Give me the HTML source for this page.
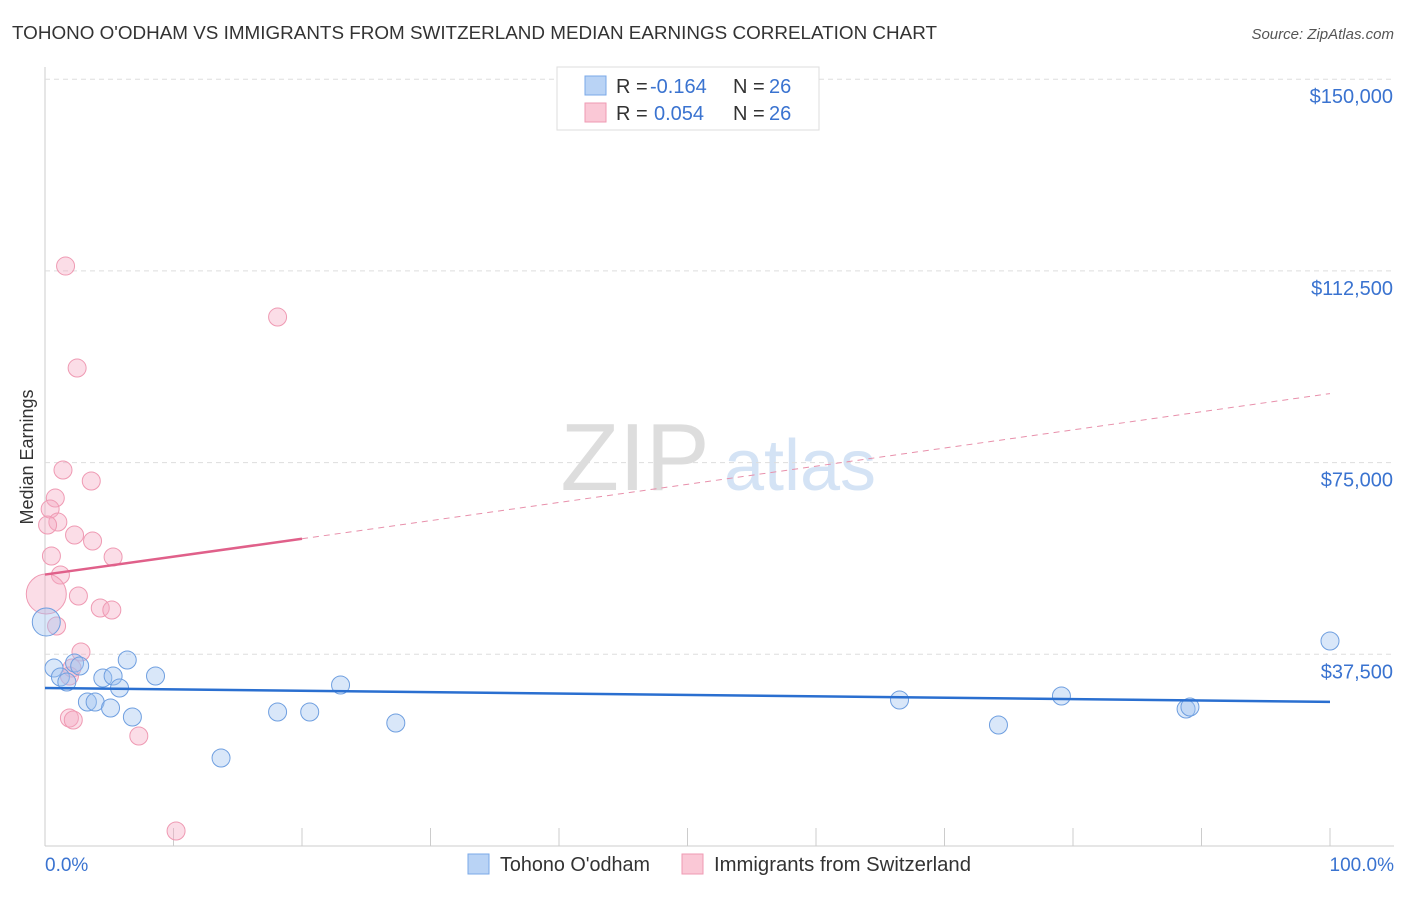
<!DOCTYPE html>
<html><head><meta charset="utf-8"><style>
body{margin:0;background:#fff;font-family:"Liberation Sans",sans-serif;}
svg text{font-family:"Liberation Sans",sans-serif;}
</style></head><body>
<svg id="c" width="1406" height="892" xmlns="http://www.w3.org/2000/svg">
<text x="12" y="39" font-size="18" fill="#333" textLength="925" lengthAdjust="spacingAndGlyphs">TOHONO O'ODHAM VS IMMIGRANTS FROM SWITZERLAND MEDIAN EARNINGS CORRELATION CHART</text>
<text x="1394" y="39" font-size="15" fill="#555" font-style="italic" text-anchor="end">Source: ZipAtlas.com</text>
<text x="33" y="457" font-size="18" fill="#333" text-anchor="middle" transform="rotate(-90 33 457)">Median Earnings</text>
<g><text x="635" y="490" font-size="96" fill="#ddd" font-family="Liberation Serif" text-anchor="middle">ZIP</text><text x="800" y="490" font-size="72" fill="#d4e3f5" text-anchor="middle">atlas</text></g>
<g id="grid"></g><g id="pts"></g><g id="trend"></g>
<g>
<rect x="557" y="67" width="262" height="63" fill="#fff" stroke="#ddd"/>
<rect x="585" y="76" width="21" height="19" fill="#b9d3f5" stroke="#7aa8e8"/>
<rect x="585" y="103" width="21" height="19" fill="#fac8d6" stroke="#ef9ab3"/>
<text x="616" y="93" font-size="20" fill="#333">R =</text>
<text x="650" y="93" font-size="20" fill="#3a73d0">-0.164</text>
<text x="733" y="93" font-size="20" fill="#333">N =</text>
<text x="769" y="93" font-size="20" fill="#3a73d0">26</text>
<text x="616" y="120" font-size="20" fill="#333">R =</text>
<text x="654" y="120" font-size="20" fill="#3a73d0">0.054</text>
<text x="733" y="120" font-size="20" fill="#333">N =</text>
<text x="769" y="120" font-size="20" fill="#3a73d0">26</text>
</g>
<g>
<rect x="468" y="854" width="21" height="20" fill="#b9d3f5" stroke="#7aa8e8"/>
<text x="500" y="871" font-size="20" fill="#333" textLength="150" lengthAdjust="spacingAndGlyphs">Tohono O'odham</text>
<rect x="682" y="854" width="21" height="20" fill="#fac8d6" stroke="#ef9ab3"/>
<text x="714" y="871" font-size="20" fill="#333" textLength="257" lengthAdjust="spacingAndGlyphs">Immigrants from Switzerland</text>
</g>
<text x="45" y="871" font-size="19" fill="#3a73d0">0.0%</text>
<text x="1394" y="871" font-size="19" fill="#3a73d0" text-anchor="end">100.0%</text>
</svg>
<script>
const yTicks=[37500,75000,112500,150000];
const yTickLabels=["$37,500","$75,000","$112,500","$150,000"];
const blueX=[0.7,1.2,1.7,2.3,2.7,3.3,3.9,4.5,5.1,5.3,5.8,6.4,6.8,8.6,13.7,18.1,20.6,23.0,27.3,66.5,74.2,79.1,88.8,89.1,100,0.1];
const blueY=[34817,33056,32078,35795,35208,28166,28166,32861,26993,33252,30905,36382,25232,33252,17213,26210,26210,31492,24059,28558,23668,29340,26797,27188,40098,43814];
const pinkX=[1.6,18.1,2.5,1.4,3.6,0.8,0.4,1.0,0.2,2.3,3.7,5.3,0.5,1.2,0.1,2.6,4.3,5.2,0.9,2.8,2.1,1.9,1.9,2.2,7.3,10.2];
const pinkY=[113448,103472,93497,73546,71395,68069,65917,63374,62788,60832,59658,56528,56724,53008,49291,48900,46553,46162,43032,37946,34817,33252,25037,24646,21516,2934];
const blueTrend=[30900,28200];
const pinkTrend=[53100,60100,88500];
const NS="http://www.w3.org/2000/svg";
const X=v=>45+v/100*1285, Y=v=>846-v/37500*191.7;
function mk(t,a,p){const e=document.createElementNS(NS,t);for(const k in a)e.setAttribute(k,a[k]);p.appendChild(e);return e;}
const g=document.getElementById('grid');
let ax=mk('line',{x1:45,y1:67,x2:45,y2:846,stroke:'#ccc'},g);

let bx=mk('line',{x1:45,y1:846,x2:1394,y2:846,stroke:'#ccc'},g);

for(let i=0;i<=10;i++){let t=mk('line',{x1:X(i*10),x2:X(i*10),y1:828,y2:846,stroke:'#ccc'},g);
}
yTicks.forEach((v,i)=>{let l=mk('line',{x1:45,x2:1394,y1:Y(v),y2:Y(v),stroke:'#ddd','stroke-dasharray':'5,4'},g);

let t=mk('text',{x:1393,y:Y(v)+24,'font-size':20,fill:'#3a73d0','text-anchor':'end'},g);t.textContent=yTickLabels[i];
});
const p=document.getElementById('pts');
pinkX.forEach((x,i)=>{let c=mk('circle',{cx:X(x),cy:Y(pinkY[i]),r:i==14?20:9,fill:'rgba(246,170,195,0.4)',stroke:'#ef9ab3','stroke-width':1},p);
});
blueX.forEach((x,i)=>{let c=mk('circle',{cx:X(x),cy:Y(blueY[i]),r:i==25?14:9,fill:'rgba(160,195,240,0.4)',stroke:'#6f9fe0','stroke-width':1},p);
});
const tr=document.getElementById('trend');
let b=mk('line',{x1:X(0),y1:Y(blueTrend[0]),x2:X(100),y2:Y(blueTrend[1]),stroke:'#2a6fd0','stroke-width':2.5},tr);

let a=mk('line',{x1:X(0),y1:Y(pinkTrend[0]),x2:X(20),y2:Y(pinkTrend[1]),stroke:'#e0608a','stroke-width':2.5},tr);

let d=mk('line',{x1:X(20),y1:Y(pinkTrend[1]),x2:X(100),y2:Y(pinkTrend[2]),stroke:'#e890ab','stroke-width':1,'stroke-dasharray':'6,5'},tr);

</script>
</body></html>
